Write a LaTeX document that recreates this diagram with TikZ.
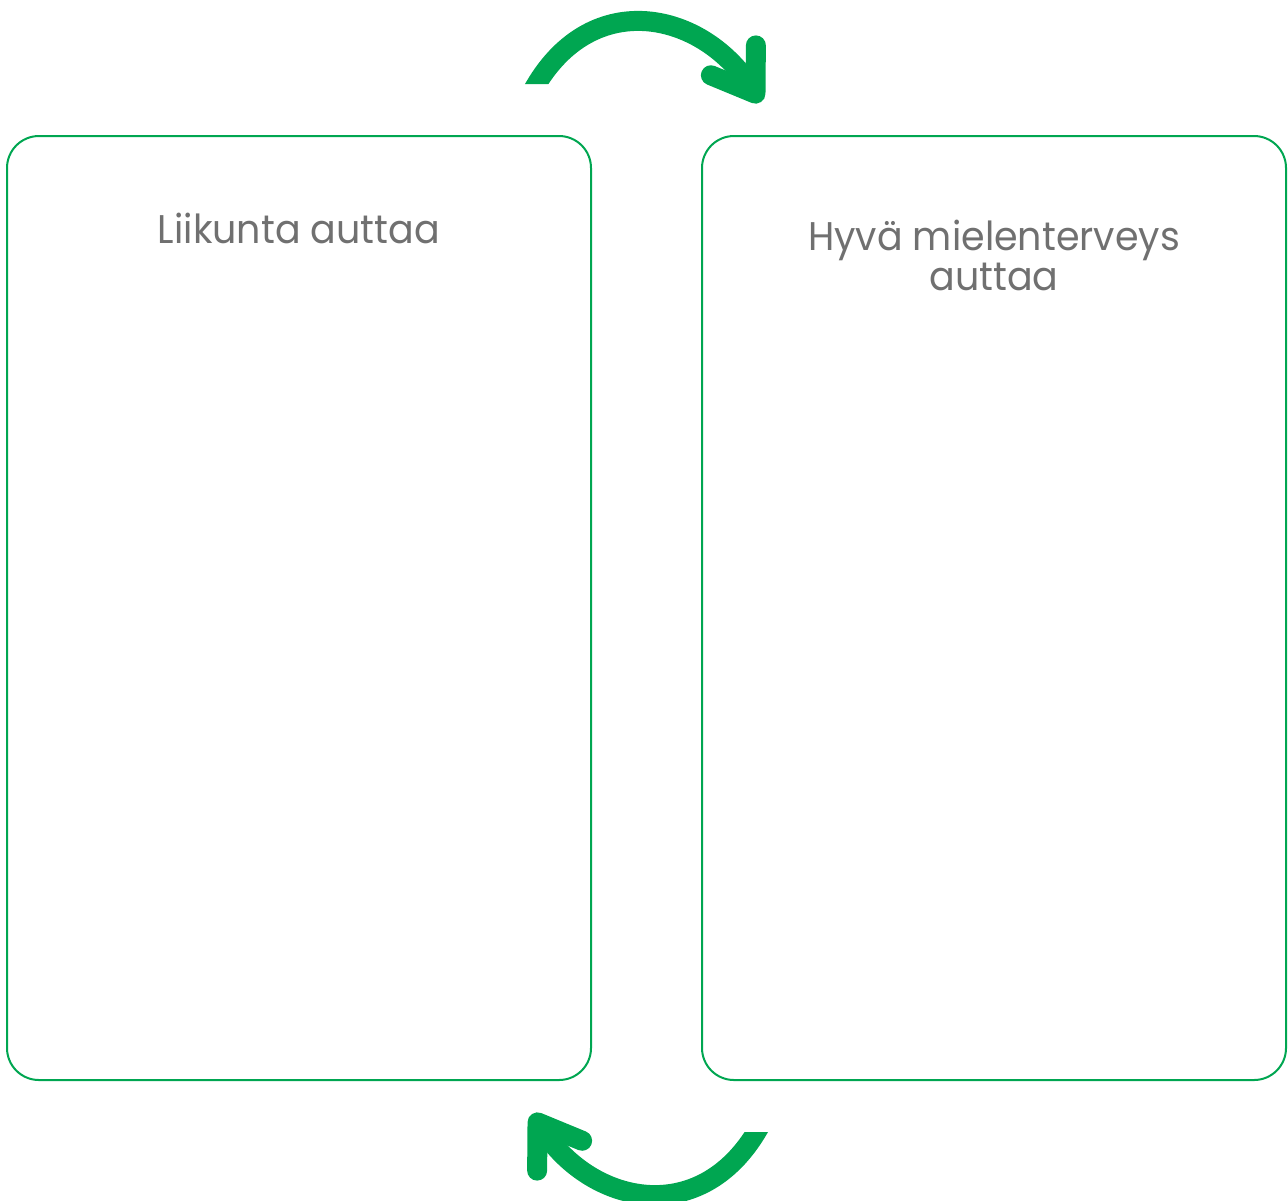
\documentclass[tikz,border=0pt]{standalone}
\usepackage{fontspec}
\setmainfont{Poppins}[FakeStretch=0.95]
\usetikzlibrary{arrows.meta,positioning}

\begin{document}
\begin{tikzpicture}[x=0.5pt,y=0.5pt,
    box/.style={draw=boxgreen, line width=1pt, rounded corners=16pt,
        minimum width=292pt, minimum height=472pt, inner sep=0pt},
    title/.style={text=textgray, font=\fontsize{20}{20}\selectfont,
        align=center, inner sep=0pt},
    cyclearrow/.style={draw=arrowgreen, line width=10pt,
        -{Straight Barb[length=20pt, width=27pt, round]}}]
    % Define colors
    \definecolor{boxgreen}{RGB}{0,166,81} % green frame
    \definecolor{arrowgreen}{RGB}{0,166,81} % green arrows
    \definecolor{textgray}{RGB}{112,112,112} % gray titles
    \useasboundingbox (0,0) rectangle (1288,-1200);

    % Draw boxes
    \node[box] (leftbox) at (299,-608) {};
    \node[box] (rightbox) at (994,-608) {};

    % Titles
    \node[title, below=39pt of leftbox.north] (lefttitle) {Liikunta auttaa};
    \node[title, below=42.5pt of rightbox.north] (righttitle) {Hyvä mielenterveys\\auttaa};

    % Draw arrows (start cut flat by the clip)
    \begin{scope}
        \clip (400,-84) -- (640,-84) -- (640,-200) -- (900,-200) -- (900,0) -- (400,0) -- cycle;
        \coordinate (topstart) at (532,-92);
        \coordinate (topend) at (761,-102);
        \draw[cyclearrow] (topstart) .. controls +(57,105) and +(-61,92) .. (topend);
    \end{scope}
    \begin{scope}[rotate around={180:(646.5,-608)}]
        \clip (400,-84) -- (640,-84) -- (640,-200) -- (900,-200) -- (900,0) -- (400,0) -- cycle;
        \coordinate (botstart) at (532,-92);
        \coordinate (botend) at (761,-102);
        \draw[cyclearrow] (botstart) .. controls +(57,105) and +(-61,92) .. (botend);
    \end{scope}
\end{tikzpicture}
\end{document}
